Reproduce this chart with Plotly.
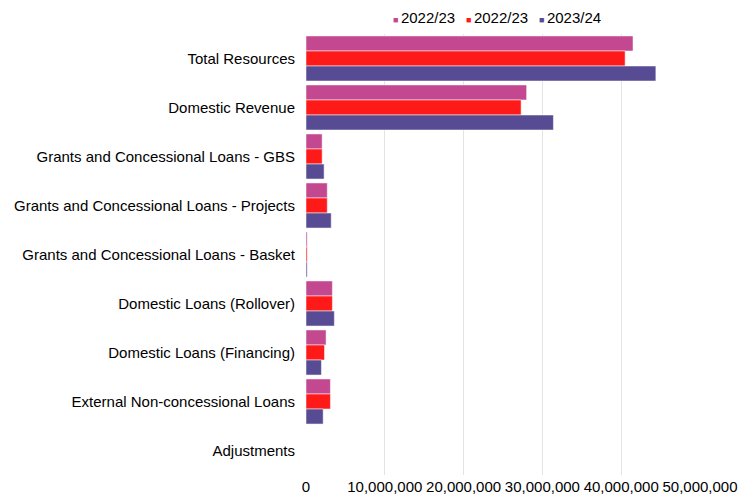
import plotly.graph_objects as go

categories = [
    "Total Resources",
    "Domestic Revenue",
    "Grants and Concessional Loans - GBS",
    "Grants and Concessional Loans - Projects",
    "Grants and Concessional Loans - Basket",
    "Domestic Loans (Rollover)",
    "Domestic Loans (Financing)",
    "External Non-concessional Loans",
    "Adjustments",
]
series_names = ["2022/23", "2022/23", "2023/24"]
values_a = [41500000, 28000000, 2050000, 2700000, 150000, 3350000, 2550000, 3100000, 0]
values_b = [40500000, 27300000, 2050000, 2700000, 150000, 3350000, 2350000, 3100000, 0]
values_c = [44400000, 31400000, 2300000, 3200000, 150000, 3600000, 1960000, 2180000, 0]
tick_vals = [0, 10000000, 20000000, 30000000, 40000000, 50000000]
tick_text = ["0", "10,000,000", "20,000,000", "30,000,000", "40,000,000", "50,000,000"]

colors = ["#C4488F", "#FF1A1A", "#574C93"]
all_values = [values_a, values_b, values_c]

fig = go.Figure()
for name, vals, col in zip(series_names, all_values, colors):
    fig.add_trace(go.Bar(
        y=categories, x=vals, orientation="h", name=name,
        marker=dict(color=col, line=dict(color="rgba(255,255,255,0.5)", width=1)),
        showlegend=False,
    ))

font = dict(family="Liberation Sans, Arial, sans-serif", size=15, color="#000000")

# legend drawn as text entries along the top (paper coords)
plot_left, plot_w = 305.5, 395.0
legend_px = [390.5, 464.0, 537.5]
annotations = []
for name, col, px in zip(series_names, colors, legend_px):
    annotations.append(dict(
        xref="paper", yref="paper", x=(px - plot_left) / plot_w, y=1.0,
        xanchor="left", yanchor="bottom", yshift=6, showarrow=False,
        text=f"<span style='color:{col};font-size:9px'>■ </span>{name}",
        font=font,
    ))

fig.update_layout(
    width=750, height=495,
    margin=dict(l=305.5, r=49.5, t=33.5, b=19.5, autoexpand=False),
    paper_bgcolor="white", plot_bgcolor="white",
    font=font, showlegend=False,
    barmode="group", bargap=0.08, bargroupgap=0.0,
    annotations=annotations,
    xaxis=dict(range=[0, 50000000], tickvals=tick_vals, ticktext=tick_text,
               showgrid=True, gridcolor="#E3E3E3", gridwidth=1,
               zeroline=False, showline=False, ticks="", tickfont=font,
               ticklabelstandoff=1),
    yaxis=dict(autorange="reversed", showgrid=False, zeroline=False, showline=False,
               ticks="", tickfont=font, ticklabelstandoff=10),
)
fig.write_html("out.html")
